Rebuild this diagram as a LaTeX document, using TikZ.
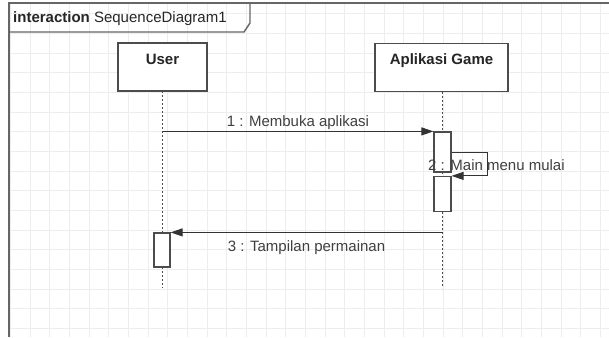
\documentclass[tikz,border=0pt]{standalone}
\usepackage{fontspec}
\setmainfont{Liberation Sans}
\usetikzlibrary{arrows.meta}

\begin{document}
\begin{tikzpicture}[x=1pt,y=-1pt,
    font=\fontsize{15}{18}\selectfont,
    gridline/.style={draw=black!7, line width=0.8pt},
    framestyle/.style={draw=black!60, line width=1.4pt},
    lifebox/.style={draw=black!70, fill=white, line width=1.2pt, inner sep=0pt, minimum height=48pt},
    actbox/.style={draw=black!70, fill=white, line width=1.2pt, inner sep=0pt, minimum width=17pt},
    lifeline/.style={draw=black!70, line width=1.3pt, dash pattern=on 2pt off 2pt},
    msg/.style={draw=black!80, line width=1pt, -{Triangle[length=12pt,width=8pt]}},
    msglabel/.style={text=black!75, inner sep=1.5pt}]
        \useasboundingbox (0,0) rectangle (609,337);
        \fill[white] (0,0) rectangle (609,337);

        % Background grid
        \foreach \i in {0,...,30}
            \draw[gridline] ({10.3+19.67*\i},3) -- ({10.3+19.67*\i},337);
        \foreach \j in {0,...,16}
            \draw[gridline] (9,{13.7+19.67*\j}) -- (609,{13.7+19.67*\j});

        % Interaction frame
        \draw[framestyle] (9,337) -- (9,3) -- (609,3);
        \draw[framestyle] (9,32) -- (244,32) -- (250,23) -- (250,3);
        \node[anchor=base west, inner sep=0pt, text=black!85] (title) at (13,23)
            {\textbf{interaction} SequenceDiagram1};

        % Lifelines
        \coordinate (userend) at (162.5,288);
        \coordinate (gameend) at (442.5,288);
        \draw[lifeline] (162.5,91) -- (userend);
        \draw[lifeline] (442.5,92) -- (gameend);

        % Lifeline heads
        \node[lifebox, minimum width=89pt,
            label={[anchor=base, yshift=-22pt, text=black!85]north:\textbf{User}}]
            (user) at (162.5,67) {};
        \node[lifebox, minimum width=133pt,
            label={[anchor=base, yshift=-22pt, text=black!85]north:\textbf{Aplikasi Game}}]
            (game) at (441.5,67.5) {};

        % Activations
        \node[actbox, minimum height=40pt] (act1) at (442.5,152) {};
        \node[actbox, minimum height=35pt] (act2) at (442.5,194) {};
        \node[actbox, minimum width=16pt, minimum height=34pt] (useract) at (162,250) {};

        % Messages
        \draw[msg] (userend |- act1.north) -- (act1.north west)
            node[midway, above, msglabel] {1 : Membuka aplikasi};
        \draw[msg] (act1.east) -- ++(36,0) |- (act2.north east);
        \node[anchor=base west, msglabel, inner sep=0pt] (selflabel) at (428,170) {2 : Main menu mulai};
        \draw[msg] (gameend |- useract.north) -- (useract.north east)
            node[midway, below=6pt, msglabel] {3 : Tampilan permainan};
\end{tikzpicture}
\end{document}
